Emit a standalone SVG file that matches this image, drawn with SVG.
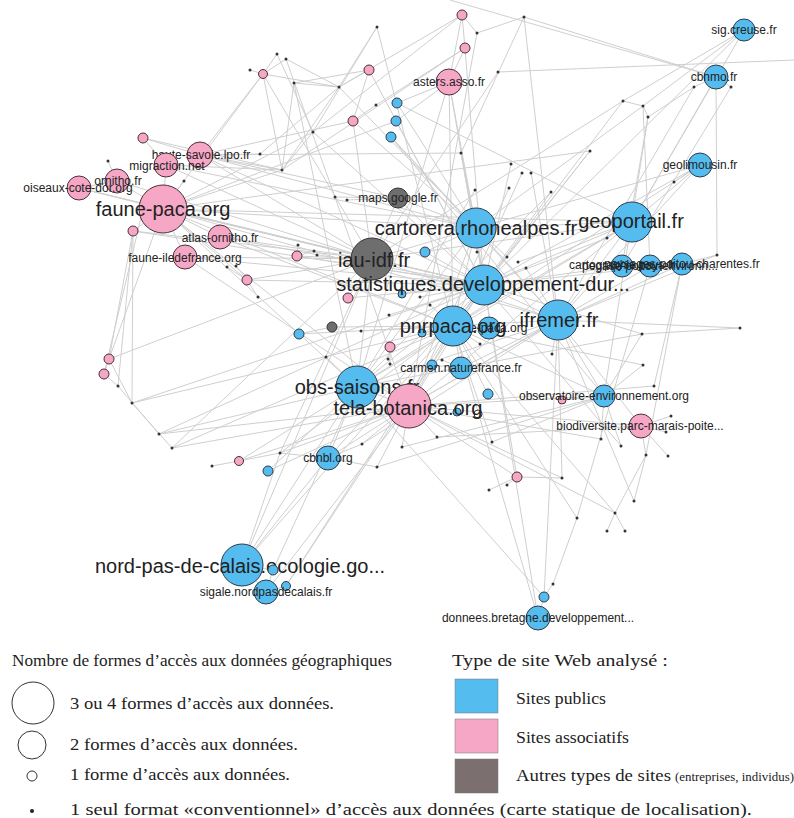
<svg xmlns="http://www.w3.org/2000/svg" width="794" height="818" viewBox="0 0 794 818">
<style>
.e{stroke:#cfcfcf;stroke-width:1;fill:none}
.pub{fill:#55bcef;stroke:#2e3b48;stroke-width:1}
.asso{fill:#f6a7c6;stroke:#4a3038;stroke-width:1}
.oth{fill:#6e6e6e;stroke:#333;stroke-width:1}
.dot{fill:#333}
.lb{font-family:"Liberation Sans",Arial,sans-serif;fill:#222;text-anchor:middle;dominant-baseline:central}
.L{font-size:20px}.M{font-size:12px}
.lg{font-family:"Liberation Serif","Times New Roman",serif;font-size:17.5px;fill:#222}
</style>
<rect width="794" height="818" fill="#fff"/>
<g id="connectors">
<line class="e" x1="462" y1="15" x2="465" y2="48"/>
<line class="e" x1="462" y1="15" x2="449" y2="82"/>
<line class="e" x1="462" y1="15" x2="477" y2="33"/>
<line class="e" x1="462" y1="15" x2="339" y2="87"/>
<line class="e" x1="462" y1="15" x2="313" y2="132"/>
<line class="e" x1="524" y1="17" x2="477" y2="33"/>
<line class="e" x1="524" y1="17" x2="461" y2="153"/>
<line class="e" x1="524" y1="17" x2="716" y2="77"/>
<line class="e" x1="524" y1="17" x2="558" y2="320"/>
<line class="e" x1="465" y1="48" x2="449" y2="82"/>
<line class="e" x1="465" y1="48" x2="376" y2="105"/>
<line class="e" x1="465" y1="48" x2="282" y2="170"/>
<line class="e" x1="465" y1="48" x2="484" y2="285"/>
<line class="e" x1="449" y1="82" x2="397" y2="103"/>
<line class="e" x1="449" y1="82" x2="396" y2="121"/>
<line class="e" x1="449" y1="82" x2="476" y2="228"/>
<line class="e" x1="449" y1="82" x2="484" y2="285"/>
<line class="e" x1="449" y1="82" x2="453" y2="326"/>
<line class="e" x1="449" y1="82" x2="357" y2="387"/>
<line class="e" x1="477" y1="33" x2="409" y2="406"/>
<line class="e" x1="498" y1="72" x2="372" y2="259"/>
<line class="e" x1="498" y1="72" x2="794" y2="60"/>
<line class="e" x1="369" y1="70" x2="339" y2="87"/>
<line class="e" x1="369" y1="70" x2="294" y2="83"/>
<line class="e" x1="369" y1="70" x2="353" y2="121"/>
<line class="e" x1="369" y1="70" x2="484" y2="285"/>
<line class="e" x1="377" y1="27" x2="339" y2="87"/>
<line class="e" x1="377" y1="27" x2="313" y2="132"/>
<line class="e" x1="377" y1="27" x2="453" y2="326"/>
<line class="e" x1="263" y1="74" x2="250" y2="70"/>
<line class="e" x1="263" y1="74" x2="277" y2="54"/>
<line class="e" x1="263" y1="74" x2="286" y2="59"/>
<line class="e" x1="263" y1="74" x2="200" y2="155"/>
<line class="e" x1="263" y1="74" x2="282" y2="170"/>
<line class="e" x1="263" y1="74" x2="339" y2="87"/>
<line class="e" x1="263" y1="74" x2="163" y2="209"/>
<line class="e" x1="263" y1="74" x2="372" y2="259"/>
<line class="e" x1="277" y1="54" x2="313" y2="132"/>
<line class="e" x1="286" y1="59" x2="339" y2="87"/>
<line class="e" x1="286" y1="59" x2="409" y2="406"/>
<line class="e" x1="294" y1="83" x2="282" y2="170"/>
<line class="e" x1="294" y1="83" x2="339" y2="87"/>
<line class="e" x1="294" y1="83" x2="357" y2="387"/>
<line class="e" x1="339" y1="87" x2="282" y2="170"/>
<line class="e" x1="339" y1="87" x2="260" y2="154"/>
<line class="e" x1="339" y1="87" x2="476" y2="228"/>
<line class="e" x1="313" y1="132" x2="282" y2="170"/>
<line class="e" x1="313" y1="132" x2="163" y2="209"/>
<line class="e" x1="313" y1="132" x2="484" y2="285"/>
<line class="e" x1="353" y1="121" x2="372" y2="259"/>
<line class="e" x1="353" y1="121" x2="476" y2="228"/>
<line class="e" x1="353" y1="121" x2="376" y2="105"/>
<line class="e" x1="353" y1="121" x2="200" y2="155"/>
<line class="e" x1="397" y1="103" x2="476" y2="228"/>
<line class="e" x1="397" y1="103" x2="632" y2="222"/>
<line class="e" x1="396" y1="121" x2="484" y2="285"/>
<line class="e" x1="396" y1="121" x2="163" y2="209"/>
<line class="e" x1="391" y1="137" x2="558" y2="320"/>
<line class="e" x1="391" y1="137" x2="476" y2="228"/>
<line class="e" x1="391" y1="137" x2="604" y2="396"/>
<line class="e" x1="143" y1="138" x2="166" y2="165"/>
<line class="e" x1="143" y1="138" x2="200" y2="155"/>
<line class="e" x1="143" y1="138" x2="282" y2="170"/>
<line class="e" x1="200" y1="155" x2="282" y2="170"/>
<line class="e" x1="200" y1="155" x2="398" y2="198"/>
<line class="e" x1="200" y1="155" x2="476" y2="228"/>
<line class="e" x1="200" y1="155" x2="372" y2="259"/>
<line class="e" x1="200" y1="155" x2="484" y2="285"/>
<line class="e" x1="200" y1="155" x2="260" y2="154"/>
<line class="e" x1="166" y1="165" x2="163" y2="209"/>
<line class="e" x1="166" y1="165" x2="282" y2="170"/>
<line class="e" x1="166" y1="165" x2="476" y2="228"/>
<line class="e" x1="166" y1="165" x2="372" y2="259"/>
<line class="e" x1="117" y1="181" x2="163" y2="209"/>
<line class="e" x1="117" y1="181" x2="108" y2="161"/>
<line class="e" x1="117" y1="181" x2="372" y2="259"/>
<line class="e" x1="79" y1="188" x2="163" y2="209"/>
<line class="e" x1="79" y1="188" x2="117" y2="181"/>
<line class="e" x1="79" y1="188" x2="372" y2="259"/>
<line class="e" x1="79" y1="188" x2="484" y2="285"/>
<line class="e" x1="163" y1="209" x2="282" y2="170"/>
<line class="e" x1="163" y1="209" x2="184" y2="181"/>
<line class="e" x1="163" y1="209" x2="372" y2="259"/>
<line class="e" x1="163" y1="209" x2="484" y2="285"/>
<line class="e" x1="163" y1="209" x2="476" y2="228"/>
<line class="e" x1="163" y1="209" x2="632" y2="222"/>
<line class="e" x1="163" y1="209" x2="220" y2="237"/>
<line class="e" x1="163" y1="209" x2="185" y2="257"/>
<line class="e" x1="163" y1="209" x2="133" y2="231"/>
<line class="e" x1="163" y1="209" x2="357" y2="387"/>
<line class="e" x1="163" y1="209" x2="409" y2="406"/>
<line class="e" x1="163" y1="209" x2="453" y2="326"/>
<line class="e" x1="163" y1="209" x2="558" y2="320"/>
<line class="e" x1="220" y1="237" x2="372" y2="259"/>
<line class="e" x1="220" y1="237" x2="484" y2="285"/>
<line class="e" x1="220" y1="237" x2="453" y2="326"/>
<line class="e" x1="185" y1="257" x2="484" y2="285"/>
<line class="e" x1="185" y1="257" x2="372" y2="259"/>
<line class="e" x1="185" y1="257" x2="409" y2="406"/>
<line class="e" x1="133" y1="231" x2="118" y2="386"/>
<line class="e" x1="133" y1="231" x2="109" y2="359"/>
<line class="e" x1="133" y1="231" x2="132" y2="403"/>
<line class="e" x1="133" y1="231" x2="372" y2="259"/>
<line class="e" x1="133" y1="231" x2="484" y2="285"/>
<line class="e" x1="109" y1="359" x2="104" y2="374"/>
<line class="e" x1="109" y1="359" x2="132" y2="403"/>
<line class="e" x1="109" y1="359" x2="372" y2="259"/>
<line class="e" x1="109" y1="359" x2="163" y2="209"/>
<line class="e" x1="104" y1="374" x2="118" y2="386"/>
<line class="e" x1="104" y1="374" x2="143" y2="209"/>
<line class="e" x1="118" y1="386" x2="159" y2="434"/>
<line class="e" x1="132" y1="403" x2="172" y2="448"/>
<line class="e" x1="132" y1="403" x2="484" y2="285"/>
<line class="e" x1="132" y1="403" x2="453" y2="326"/>
<line class="e" x1="159" y1="434" x2="357" y2="387"/>
<line class="e" x1="159" y1="434" x2="409" y2="406"/>
<line class="e" x1="159" y1="434" x2="484" y2="285"/>
<line class="e" x1="172" y1="448" x2="453" y2="326"/>
<line class="e" x1="172" y1="448" x2="409" y2="406"/>
<line class="e" x1="172" y1="448" x2="372" y2="259"/>
<line class="e" x1="239" y1="461" x2="212" y2="466"/>
<line class="e" x1="239" y1="461" x2="280" y2="453"/>
<line class="e" x1="239" y1="461" x2="357" y2="387"/>
<line class="e" x1="239" y1="461" x2="409" y2="406"/>
<line class="e" x1="268" y1="471" x2="357" y2="387"/>
<line class="e" x1="268" y1="471" x2="409" y2="406"/>
<line class="e" x1="280" y1="453" x2="328" y2="458"/>
<line class="e" x1="280" y1="453" x2="242" y2="565"/>
<line class="e" x1="280" y1="453" x2="409" y2="406"/>
<line class="e" x1="280" y1="453" x2="372" y2="259"/>
<line class="e" x1="280" y1="453" x2="453" y2="326"/>
<line class="e" x1="328" y1="458" x2="409" y2="406"/>
<line class="e" x1="328" y1="458" x2="357" y2="387"/>
<line class="e" x1="328" y1="458" x2="362" y2="444"/>
<line class="e" x1="328" y1="458" x2="377" y2="467"/>
<line class="e" x1="328" y1="458" x2="242" y2="565"/>
<line class="e" x1="328" y1="458" x2="484" y2="285"/>
<line class="e" x1="242" y1="565" x2="273" y2="570"/>
<line class="e" x1="242" y1="565" x2="266" y2="592"/>
<line class="e" x1="242" y1="565" x2="357" y2="387"/>
<line class="e" x1="242" y1="565" x2="453" y2="326"/>
<line class="e" x1="242" y1="565" x2="372" y2="259"/>
<line class="e" x1="266" y1="592" x2="286" y2="586"/>
<line class="e" x1="266" y1="592" x2="273" y2="570"/>
<line class="e" x1="266" y1="592" x2="409" y2="406"/>
<line class="e" x1="286" y1="586" x2="484" y2="285"/>
<line class="e" x1="286" y1="586" x2="453" y2="326"/>
<line class="e" x1="273" y1="570" x2="357" y2="387"/>
<line class="e" x1="362" y1="444" x2="409" y2="406"/>
<line class="e" x1="362" y1="444" x2="558" y2="320"/>
<line class="e" x1="377" y1="467" x2="409" y2="406"/>
<line class="e" x1="377" y1="467" x2="604" y2="396"/>
<line class="e" x1="409" y1="406" x2="357" y2="387"/>
<line class="e" x1="409" y1="406" x2="484" y2="285"/>
<line class="e" x1="409" y1="406" x2="453" y2="326"/>
<line class="e" x1="409" y1="406" x2="558" y2="320"/>
<line class="e" x1="409" y1="406" x2="604" y2="396"/>
<line class="e" x1="409" y1="406" x2="641" y2="426"/>
<line class="e" x1="409" y1="406" x2="632" y2="222"/>
<line class="e" x1="409" y1="406" x2="476" y2="228"/>
<line class="e" x1="357" y1="387" x2="372" y2="259"/>
<line class="e" x1="357" y1="387" x2="484" y2="285"/>
<line class="e" x1="357" y1="387" x2="476" y2="228"/>
<line class="e" x1="357" y1="387" x2="453" y2="326"/>
<line class="e" x1="357" y1="387" x2="558" y2="320"/>
<line class="e" x1="357" y1="387" x2="632" y2="222"/>
<line class="e" x1="372" y1="259" x2="484" y2="285"/>
<line class="e" x1="372" y1="259" x2="476" y2="228"/>
<line class="e" x1="372" y1="259" x2="398" y2="198"/>
<line class="e" x1="372" y1="259" x2="558" y2="320"/>
<line class="e" x1="372" y1="259" x2="632" y2="222"/>
<line class="e" x1="398" y1="198" x2="476" y2="228"/>
<line class="e" x1="398" y1="198" x2="335" y2="197"/>
<line class="e" x1="398" y1="198" x2="347" y2="200"/>
<line class="e" x1="398" y1="198" x2="484" y2="285"/>
<line class="e" x1="476" y1="228" x2="484" y2="285"/>
<line class="e" x1="476" y1="228" x2="632" y2="222"/>
<line class="e" x1="476" y1="228" x2="558" y2="320"/>
<line class="e" x1="476" y1="228" x2="453" y2="326"/>
<line class="e" x1="484" y1="285" x2="453" y2="326"/>
<line class="e" x1="484" y1="285" x2="558" y2="320"/>
<line class="e" x1="484" y1="285" x2="632" y2="222"/>
<line class="e" x1="484" y1="285" x2="622" y2="266"/>
<line class="e" x1="484" y1="285" x2="682" y2="264"/>
<line class="e" x1="453" y1="326" x2="558" y2="320"/>
<line class="e" x1="453" y1="326" x2="489" y2="328"/>
<line class="e" x1="453" y1="326" x2="461" y2="368"/>
<line class="e" x1="453" y1="326" x2="632" y2="222"/>
<line class="e" x1="453" y1="326" x2="604" y2="396"/>
<line class="e" x1="558" y1="320" x2="604" y2="396"/>
<line class="e" x1="558" y1="320" x2="632" y2="222"/>
<line class="e" x1="558" y1="320" x2="641" y2="426"/>
<line class="e" x1="558" y1="320" x2="682" y2="264"/>
<line class="e" x1="558" y1="320" x2="461" y2="368"/>
<line class="e" x1="632" y1="222" x2="700" y2="165"/>
<line class="e" x1="632" y1="222" x2="744" y2="30"/>
<line class="e" x1="632" y1="222" x2="716" y2="77"/>
<line class="e" x1="632" y1="222" x2="607" y2="238"/>
<line class="e" x1="716" y1="77" x2="694" y2="87"/>
<line class="e" x1="716" y1="77" x2="731" y2="87"/>
<line class="e" x1="716" y1="77" x2="717" y2="255"/>
<line class="e" x1="716" y1="77" x2="450" y2="0"/>
<line class="e" x1="744" y1="30" x2="623" y2="101"/>
<line class="e" x1="744" y1="30" x2="643" y2="106"/>
<line class="e" x1="744" y1="30" x2="484" y2="285"/>
<line class="e" x1="731" y1="87" x2="622" y2="266"/>
<line class="e" x1="694" y1="87" x2="648" y2="117"/>
<line class="e" x1="694" y1="87" x2="558" y2="320"/>
<line class="e" x1="700" y1="165" x2="674" y2="182"/>
<line class="e" x1="700" y1="165" x2="476" y2="228"/>
<line class="e" x1="700" y1="165" x2="484" y2="285"/>
<line class="e" x1="700" y1="165" x2="453" y2="326"/>
<line class="e" x1="700" y1="165" x2="558" y2="320"/>
<line class="e" x1="622" y1="266" x2="650" y2="266"/>
<line class="e" x1="650" y1="266" x2="682" y2="264"/>
<line class="e" x1="682" y1="264" x2="717" y2="255"/>
<line class="e" x1="650" y1="266" x2="409" y2="406"/>
<line class="e" x1="623" y1="101" x2="643" y2="106"/>
<line class="e" x1="643" y1="106" x2="648" y2="117"/>
<line class="e" x1="648" y1="117" x2="622" y2="266"/>
<line class="e" x1="643" y1="106" x2="476" y2="228"/>
<line class="e" x1="623" y1="101" x2="484" y2="285"/>
<line class="e" x1="623" y1="101" x2="372" y2="259"/>
<line class="e" x1="648" y1="117" x2="604" y2="396"/>
<line class="e" x1="643" y1="106" x2="650" y2="266"/>
<line class="e" x1="590" y1="151" x2="484" y2="285"/>
<line class="e" x1="590" y1="151" x2="453" y2="326"/>
<line class="e" x1="590" y1="151" x2="163" y2="209"/>
<line class="e" x1="551" y1="192" x2="453" y2="326"/>
<line class="e" x1="551" y1="192" x2="357" y2="387"/>
<line class="e" x1="461" y1="153" x2="476" y2="228"/>
<line class="e" x1="461" y1="153" x2="484" y2="285"/>
<line class="e" x1="461" y1="153" x2="200" y2="155"/>
<line class="e" x1="511" y1="164" x2="484" y2="285"/>
<line class="e" x1="522" y1="173" x2="453" y2="326"/>
<line class="e" x1="531" y1="173" x2="558" y2="320"/>
<line class="e" x1="475" y1="190" x2="357" y2="387"/>
<line class="e" x1="509" y1="188" x2="409" y2="406"/>
<line class="e" x1="642" y1="334" x2="740" y2="328"/>
<line class="e" x1="642" y1="334" x2="604" y2="396"/>
<line class="e" x1="642" y1="334" x2="484" y2="285"/>
<line class="e" x1="642" y1="334" x2="357" y2="387"/>
<line class="e" x1="643" y1="365" x2="604" y2="396"/>
<line class="e" x1="643" y1="365" x2="453" y2="326"/>
<line class="e" x1="654" y1="386" x2="409" y2="406"/>
<line class="e" x1="654" y1="386" x2="682" y2="264"/>
<line class="e" x1="607" y1="238" x2="484" y2="285"/>
<line class="e" x1="604" y1="396" x2="601" y2="439"/>
<line class="e" x1="604" y1="396" x2="621" y2="446"/>
<line class="e" x1="641" y1="426" x2="646" y2="455"/>
<line class="e" x1="641" y1="426" x2="668" y2="456"/>
<line class="e" x1="641" y1="426" x2="666" y2="432"/>
<line class="e" x1="641" y1="426" x2="671" y2="416"/>
<line class="e" x1="646" y1="455" x2="634" y2="501"/>
<line class="e" x1="646" y1="455" x2="615" y2="513"/>
<line class="e" x1="646" y1="455" x2="682" y2="264"/>
<line class="e" x1="615" y1="513" x2="607" y2="531"/>
<line class="e" x1="615" y1="513" x2="625" y2="531"/>
<line class="e" x1="615" y1="513" x2="453" y2="326"/>
<line class="e" x1="615" y1="513" x2="409" y2="406"/>
<line class="e" x1="634" y1="501" x2="558" y2="320"/>
<line class="e" x1="601" y1="439" x2="409" y2="406"/>
<line class="e" x1="621" y1="446" x2="484" y2="285"/>
<line class="e" x1="577" y1="518" x2="453" y2="326"/>
<line class="e" x1="577" y1="518" x2="553" y2="584"/>
<line class="e" x1="577" y1="518" x2="650" y2="266"/>
<line class="e" x1="553" y1="584" x2="544" y2="597"/>
<line class="e" x1="544" y1="597" x2="538" y2="618"/>
<line class="e" x1="538" y1="618" x2="484" y2="285"/>
<line class="e" x1="538" y1="618" x2="453" y2="326"/>
<line class="e" x1="544" y1="597" x2="357" y2="387"/>
<line class="e" x1="544" y1="597" x2="558" y2="320"/>
<line class="e" x1="517" y1="477" x2="507" y2="485"/>
<line class="e" x1="517" y1="477" x2="489" y2="490"/>
<line class="e" x1="517" y1="477" x2="484" y2="285"/>
<line class="e" x1="517" y1="477" x2="562" y2="478"/>
<line class="e" x1="517" y1="477" x2="409" y2="406"/>
<line class="e" x1="562" y1="478" x2="558" y2="320"/>
<line class="e" x1="562" y1="478" x2="409" y2="406"/>
<line class="e" x1="492" y1="442" x2="453" y2="326"/>
<line class="e" x1="492" y1="442" x2="604" y2="396"/>
<line class="e" x1="437" y1="437" x2="409" y2="406"/>
<line class="e" x1="437" y1="437" x2="641" y2="426"/>
<line class="e" x1="402" y1="447" x2="409" y2="406"/>
<line class="e" x1="402" y1="447" x2="604" y2="396"/>
<line class="e" x1="297" y1="256" x2="298" y2="245"/>
<line class="e" x1="297" y1="256" x2="314" y2="251"/>
<line class="e" x1="297" y1="256" x2="372" y2="259"/>
<line class="e" x1="297" y1="256" x2="484" y2="285"/>
<line class="e" x1="247" y1="280" x2="227" y2="267"/>
<line class="e" x1="247" y1="280" x2="236" y2="266"/>
<line class="e" x1="247" y1="280" x2="258" y2="297"/>
<line class="e" x1="247" y1="280" x2="372" y2="259"/>
<line class="e" x1="247" y1="280" x2="484" y2="285"/>
<line class="e" x1="247" y1="280" x2="163" y2="209"/>
<line class="e" x1="332" y1="327" x2="299" y2="334"/>
<line class="e" x1="332" y1="327" x2="453" y2="326"/>
<line class="e" x1="299" y1="334" x2="453" y2="326"/>
<line class="e" x1="348" y1="298" x2="372" y2="259"/>
<line class="e" x1="348" y1="298" x2="484" y2="285"/>
<line class="e" x1="390" y1="347" x2="453" y2="326"/>
<line class="e" x1="390" y1="347" x2="388" y2="359"/>
<line class="e" x1="390" y1="347" x2="390" y2="364"/>
<line class="e" x1="361" y1="331" x2="453" y2="326"/>
<line class="e" x1="389" y1="315" x2="484" y2="285"/>
<line class="e" x1="326" y1="357" x2="357" y2="387"/>
<line class="e" x1="425" y1="252" x2="484" y2="285"/>
<line class="e" x1="425" y1="252" x2="476" y2="228"/>
<line class="e" x1="402" y1="294" x2="484" y2="285"/>
<line class="e" x1="422" y1="333" x2="453" y2="326"/>
<line class="e" x1="432" y1="365" x2="461" y2="368"/>
<line class="e" x1="488" y1="394" x2="453" y2="326"/>
<line class="e" x1="562" y1="400" x2="604" y2="396"/>
<line class="e" x1="477" y1="252" x2="476" y2="228"/>
<line class="e" x1="507" y1="257" x2="476" y2="228"/>
<line class="e" x1="518" y1="262" x2="632" y2="222"/>
<line class="e" x1="526" y1="268" x2="558" y2="320"/>
<line class="e" x1="420" y1="297" x2="484" y2="285"/>
<line class="e" x1="430" y1="305" x2="453" y2="326"/>
<line class="e" x1="480" y1="344" x2="453" y2="326"/>
<line class="e" x1="442" y1="360" x2="461" y2="368"/>
<line class="e" x1="552" y1="354" x2="558" y2="320"/>
<line class="e" x1="740" y1="328" x2="558" y2="320"/>
<line class="e" x1="717" y1="255" x2="558" y2="320"/>
</g>
<g id="dots">
<circle class="dot" cx="377" cy="27" r="1.5"/><circle class="dot" cx="277" cy="54" r="1.5"/><circle class="dot" cx="286" cy="59" r="1.5"/><circle class="dot" cx="250" cy="70" r="1.5"/><circle class="dot" cx="294" cy="83" r="1.5"/><circle class="dot" cx="339" cy="87" r="1.5"/><circle class="dot" cx="376" cy="105" r="1.5"/><circle class="dot" cx="313" cy="132" r="1.5"/><circle class="dot" cx="260" cy="154" r="1.5"/><circle class="dot" cx="282" cy="170" r="1.5"/><circle class="dot" cx="335" cy="197" r="1.5"/><circle class="dot" cx="347" cy="200" r="1.5"/>
<circle class="dot" cx="524" cy="17" r="1.5"/><circle class="dot" cx="477" cy="33" r="1.5"/><circle class="dot" cx="498" cy="72" r="1.5"/><circle class="dot" cx="461" cy="153" r="1.5"/><circle class="dot" cx="511" cy="164" r="1.5"/><circle class="dot" cx="522" cy="173" r="1.5"/><circle class="dot" cx="531" cy="173" r="1.5"/><circle class="dot" cx="590" cy="151" r="1.5"/><circle class="dot" cx="475" cy="190" r="1.5"/><circle class="dot" cx="509" cy="188" r="1.5"/><circle class="dot" cx="551" cy="192" r="1.5"/>
<circle class="dot" cx="694" cy="87" r="1.5"/><circle class="dot" cx="731" cy="87" r="1.5"/><circle class="dot" cx="623" cy="101" r="1.5"/><circle class="dot" cx="643" cy="106" r="1.5"/><circle class="dot" cx="648" cy="117" r="1.5"/><circle class="dot" cx="674" cy="182" r="1.5"/>
<circle class="dot" cx="108" cy="161" r="1.5"/><circle class="dot" cx="184" cy="181" r="1.5"/><circle class="dot" cx="118" cy="386" r="1.5"/><circle class="dot" cx="132" cy="403" r="1.5"/>
<circle class="dot" cx="298" cy="245" r="1.5"/><circle class="dot" cx="314" cy="251" r="1.5"/><circle class="dot" cx="317" cy="255" r="1.5"/><circle class="dot" cx="227" cy="267" r="1.5"/><circle class="dot" cx="236" cy="266" r="1.5"/><circle class="dot" cx="258" cy="297" r="1.5"/><circle class="dot" cx="361" cy="331" r="1.5"/><circle class="dot" cx="389" cy="315" r="1.5"/><circle class="dot" cx="326" cy="357" r="1.5"/><circle class="dot" cx="388" cy="359" r="1.5"/><circle class="dot" cx="390" cy="364" r="1.5"/>
<circle class="dot" cx="477" cy="252" r="1.5"/><circle class="dot" cx="507" cy="257" r="1.5"/><circle class="dot" cx="518" cy="262" r="1.5"/><circle class="dot" cx="526" cy="268" r="1.5"/><circle class="dot" cx="420" cy="297" r="1.5"/><circle class="dot" cx="430" cy="305" r="1.5"/><circle class="dot" cx="480" cy="344" r="1.5"/><circle class="dot" cx="442" cy="360" r="1.5"/><circle class="dot" cx="552" cy="354" r="1.5"/>
<circle class="dot" cx="607" cy="238" r="1.5"/><circle class="dot" cx="717" cy="255" r="1.5"/><circle class="dot" cx="642" cy="334" r="1.5"/><circle class="dot" cx="740" cy="328" r="1.5"/><circle class="dot" cx="643" cy="365" r="1.5"/><circle class="dot" cx="654" cy="386" r="1.5"/>
<circle class="dot" cx="159" cy="434" r="1.5"/><circle class="dot" cx="172" cy="448" r="1.5"/><circle class="dot" cx="280" cy="453" r="1.5"/><circle class="dot" cx="212" cy="466" r="1.5"/><circle class="dot" cx="362" cy="444" r="1.5"/><circle class="dot" cx="377" cy="467" r="1.5"/>
<circle class="dot" cx="437" cy="437" r="1.5"/><circle class="dot" cx="402" cy="447" r="1.5"/><circle class="dot" cx="492" cy="442" r="1.5"/><circle class="dot" cx="562" cy="478" r="1.5"/><circle class="dot" cx="489" cy="490" r="1.5"/><circle class="dot" cx="507" cy="485" r="1.5"/><circle class="dot" cx="577" cy="518" r="1.5"/><circle class="dot" cx="553" cy="584" r="1.5"/>
<circle class="dot" cx="601" cy="439" r="1.5"/><circle class="dot" cx="621" cy="446" r="1.5"/><circle class="dot" cx="646" cy="455" r="1.5"/><circle class="dot" cx="668" cy="456" r="1.5"/><circle class="dot" cx="634" cy="501" r="1.5"/><circle class="dot" cx="615" cy="513" r="1.5"/><circle class="dot" cx="607" cy="531" r="1.5"/><circle class="dot" cx="625" cy="531" r="1.5"/><circle class="dot" cx="671" cy="416" r="1.5"/><circle class="dot" cx="666" cy="432" r="1.5"/>
</g>
<g id="small-nodes">
<circle class="asso" cx="143" cy="138" r="5"/><circle class="asso" cx="263" cy="74" r="4.5"/><circle class="asso" cx="369" cy="70" r="5"/><circle class="asso" cx="462" cy="15" r="5"/><circle class="asso" cx="465" cy="48" r="5"/><circle class="asso" cx="353" cy="121" r="5"/>
<circle class="pub" cx="397" cy="103" r="5"/><circle class="pub" cx="396" cy="121" r="5"/><circle class="pub" cx="391" cy="137" r="5"/>
<circle class="asso" cx="133" cy="231" r="5"/><circle class="asso" cx="297" cy="256" r="5"/><circle class="asso" cx="247" cy="280" r="5"/><circle class="oth" cx="332" cy="327" r="5"/><circle class="pub" cx="299" cy="334" r="5"/><circle class="asso" cx="348" cy="298" r="5"/><circle class="asso" cx="390" cy="347" r="5"/>
<circle class="pub" cx="425" cy="252" r="5"/><circle class="pub" cx="402" cy="294" r="4"/><circle class="pub" cx="422" cy="333" r="4"/><circle class="pub" cx="432" cy="365" r="5"/><circle class="pub" cx="488" cy="394" r="5"/>
<circle class="asso" cx="109" cy="359" r="5"/><circle class="asso" cx="104" cy="374" r="5"/><circle class="asso" cx="239" cy="461" r="4.5"/><circle class="pub" cx="268" cy="471" r="5"/><circle class="asso" cx="517" cy="477" r="5"/><circle class="asso" cx="562" cy="400" r="4"/><circle cx="478" cy="414" r="4" fill="#fff" stroke="#333"/><circle class="pub" cx="457" cy="412" r="4"/>
</g>
<g id="n-faune-paca"><circle class="asso" cx="163" cy="209" r="24"/><text class="lb L" x="163" y="209">faune-paca.org</text></g>
<g id="n-haute-savoie"><circle class="asso" cx="200" cy="155" r="13"/><text class="lb M" x="201" y="155">haute-savoie.lpo.fr</text></g>
<g id="n-migraction"><circle class="asso" cx="166" cy="165" r="12"/><text class="lb M" x="167" y="166">migraction.net</text></g>
<g id="n-ornitho"><circle class="asso" cx="117" cy="181" r="12"/><text class="lb M" x="118" y="181">ornitho.fr</text></g>
<g id="n-oiseaux"><circle class="asso" cx="79" cy="188" r="12"/><text class="lb M" x="78" y="188">oiseaux-cote-dor.org</text></g>
<g id="n-atlas"><circle class="asso" cx="220" cy="237" r="12"/><text class="lb M" x="220" y="238">atlas-ornitho.fr</text></g>
<g id="n-faune-idf"><circle class="asso" cx="185" cy="257" r="12"/><text class="lb M" x="185" y="258">faune-iledefrance.org</text></g>
<g id="n-asters"><circle class="asso" cx="449" cy="82" r="13"/><text class="lb M" x="449" y="82">asters.asso.fr</text></g>
<g id="n-iau"><circle class="oth" cx="372" cy="259" r="21"/><text class="lb L" x="374" y="260">iau-idf.fr</text></g>
<g id="n-maps"><circle class="oth" cx="398" cy="198" r="10"/><text class="lb M" x="398" y="198">maps.google.fr</text></g>
<g id="n-cartorera"><circle class="pub" cx="476" cy="228" r="20"/><text class="lb L" x="476" y="228">cartorera.rhonealpes.fr</text></g>
<g id="n-geoportail"><circle class="pub" cx="632" cy="222" r="20"/><text class="lb L" x="631" y="221">geoportail.fr</text></g>
<g id="n-ac"><circle class="pub" cx="622" cy="266" r="11"/></g>
<g id="n-ad"><circle class="pub" cx="650" cy="266" r="11"/></g>
<g id="n-ae"><circle class="pub" cx="682" cy="264" r="11"/></g>
<text class="lb M" x="622" y="265">cartographie.pays.fr</text>
<text class="lb M" x="650" y="266">pegase-poitou-environn...</text>
<text class="lb M" x="682" y="264">paysages-poitou-charentes.fr</text>
<g id="n-stat"><circle class="pub" cx="484" cy="285" r="20"/><text class="lb L" x="483" y="284">statistiques.developpement-dur...</text></g>
<g id="n-crige"><circle class="pub" cx="489" cy="328" r="11"/><text class="lb M" x="489" y="328">crige-paca.org</text></g>
<g id="n-pnrpaca"><circle class="pub" cx="453" cy="326" r="20"/><text class="lb L" x="453" y="326">pnrpaca.org</text></g>
<g id="n-ifremer"><circle class="pub" cx="558" cy="320" r="20"/><text class="lb L" x="559" y="320">ifremer.fr</text></g>
<g id="n-carmen"><circle class="pub" cx="461" cy="368" r="11"/><text class="lb M" x="461" y="368">carmen.naturefrance.fr</text></g>
<g id="n-obs-saisons"><circle class="pub" cx="357" cy="387" r="21"/><text class="lb L" x="357" y="387">obs-saisons.fr</text></g>
<g id="n-tela"><circle class="asso" cx="409" cy="406" r="22"/><text class="lb L" x="408" y="408">tela-botanica.org</text></g>
<g id="n-obs-env"><circle class="pub" cx="604" cy="396" r="11"/><text class="lb M" x="604" y="396">observatoire-environnement.org</text></g>
<g id="n-biodiv"><circle class="asso" cx="641" cy="426" r="12"/><text class="lb M" x="640" y="426">biodiversite.parc-marais-poite...</text></g>
<g id="n-cbnbl"><circle class="pub" cx="328" cy="458" r="12"/><text class="lb M" x="328" y="458">cbnbl.org</text></g>
<g id="n-nord"><circle class="pub" cx="242" cy="565" r="21"/><text class="lb L" x="240" y="566">nord-pas-de-calais.ecologie.go...</text></g>
<g id="n-s26"><circle class="pub" cx="273" cy="570" r="5"/></g>
<g id="n-sigale"><circle class="pub" cx="266" cy="592" r="12"/><circle class="pub" cx="286" cy="586" r="4.5"/><text class="lb M" x="266" y="592">sigale.nordpasdecalais.fr</text></g>
<g id="n-bretagne"><circle class="pub" cx="544" cy="597" r="5"/><circle class="pub" cx="538" cy="618" r="12"/><text class="lb M" x="538" y="618">donnees.bretagne.developpement...</text></g>
<g id="n-creuse"><circle class="pub" cx="744" cy="30" r="11"/><text class="lb M" x="744" y="30">sig.creuse.fr</text></g>
<g id="n-cbnmo"><circle class="pub" cx="716" cy="77" r="12"/><text class="lb M" x="714" y="77">cbnmo.fr</text></g>
<g id="n-geolim"><circle class="pub" cx="700" cy="165" r="12"/><text class="lb M" x="700" y="165">geolimousin.fr</text></g>
<g id="legend">
<text class="lg" x="12" y="666" textLength="380" lengthAdjust="spacingAndGlyphs">Nombre de formes d’accès aux données géographiques</text>
<circle cx="33" cy="703" r="21" fill="#fff" stroke="#333"/>
<text class="lg" x="70" y="709" textLength="264" lengthAdjust="spacingAndGlyphs">3 ou 4 formes d’accès aux données.</text>
<circle cx="32" cy="745" r="14" fill="#fff" stroke="#333"/>
<text class="lg" x="70" y="750" textLength="228" lengthAdjust="spacingAndGlyphs">2 formes d’accès aux données.</text>
<circle cx="32" cy="776" r="5" fill="#fff" stroke="#333"/>
<text class="lg" x="70" y="780" textLength="220" lengthAdjust="spacingAndGlyphs">1 forme d’accès aux données.</text>
<circle cx="32" cy="811" r="2" fill="#222"/>
<text class="lg" x="70" y="815" textLength="682" lengthAdjust="spacingAndGlyphs">1 seul format «conventionnel» d’accès aux données (carte statique de localisation).</text>
<text class="lg" x="452" y="666" textLength="216" lengthAdjust="spacingAndGlyphs">Type de site Web analysé :</text>
<rect x="455" y="679" width="43" height="34" fill="#55bcef" stroke="#777" stroke-width="0.5"/>
<text class="lg" x="516" y="704" textLength="90" lengthAdjust="spacingAndGlyphs">Sites publics</text>
<rect x="455" y="719" width="43" height="34" fill="#f6a7c6" stroke="#777" stroke-width="0.5"/>
<text class="lg" x="516" y="743" textLength="113" lengthAdjust="spacingAndGlyphs">Sites associatifs</text>
<rect x="455" y="759" width="43" height="34" fill="#7b6f6f" stroke="#777" stroke-width="0.5"/>
<text class="lg" x="516" y="781" textLength="155" lengthAdjust="spacingAndGlyphs">Autres types de sites</text>
<text class="lg" x="675" y="781" style="font-size:12px" textLength="119" lengthAdjust="spacingAndGlyphs">(entreprises, individus)</text>
</g>
</svg>
